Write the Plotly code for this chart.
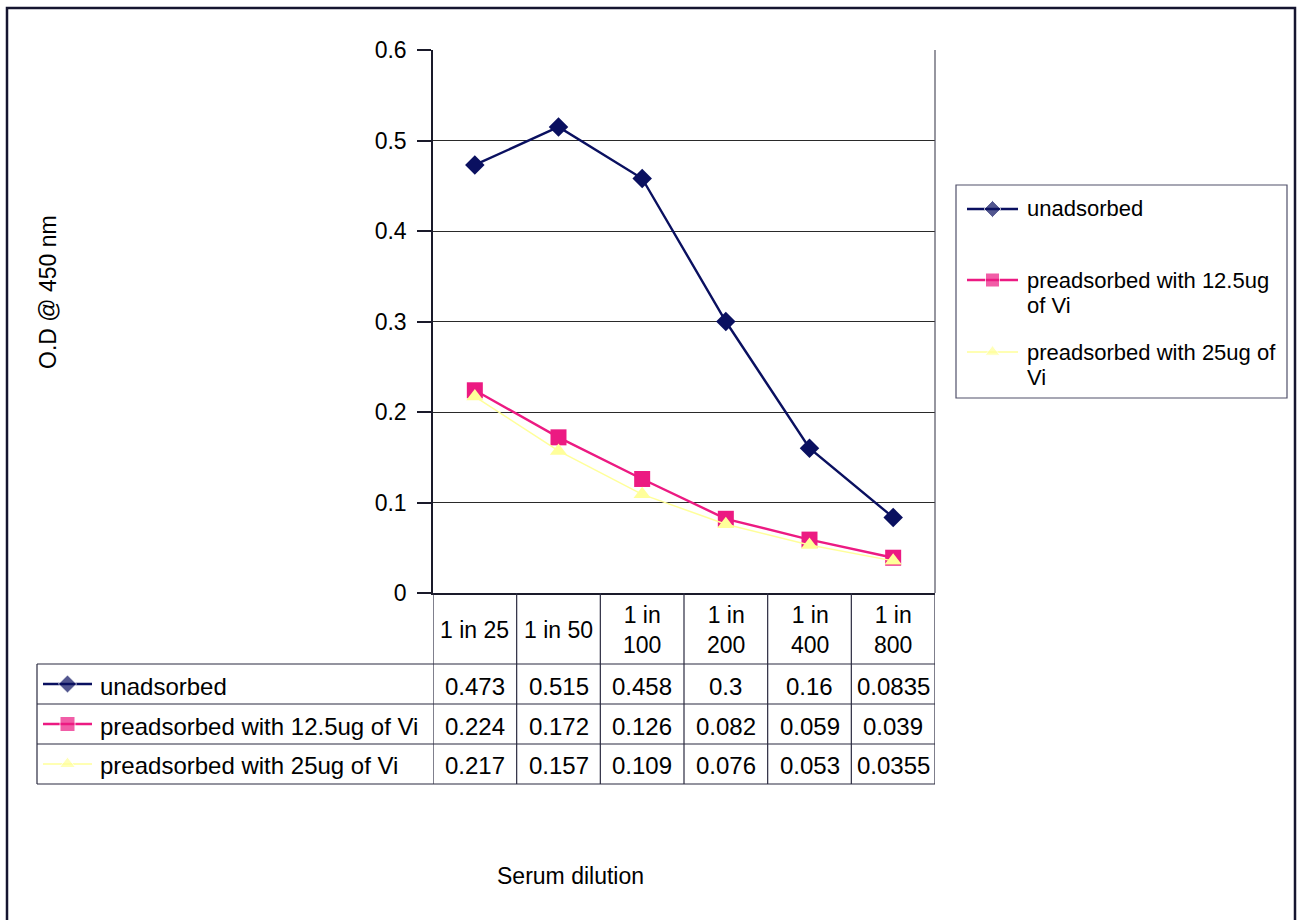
import plotly.graph_objects as go

# ---- data -------------------------------------------------------------
dilutions = ["1 in 25", "1 in 50", "1 in 100", "1 in 200", "1 in 400", "1 in 800"]
unadsorbed = [0.473, 0.515, 0.458, 0.3, 0.16, 0.0835]
pre_12_5 = [0.224, 0.172, 0.126, 0.082, 0.059, 0.039]
pre_25 = [0.217, 0.157, 0.109, 0.076, 0.053, 0.0355]
series_names = ["unadsorbed", "preadsorbed with 12.5ug of Vi", "preadsorbed with 25ug of Vi"]
legend_labels = ["unadsorbed", "preadsorbed with 12.5ug<br>of Vi", "preadsorbed with 25ug of<br>Vi"]
y_ticks = [0, 0.1, 0.2, 0.3, 0.4, 0.5, 0.6]
x_title = "Serum dilution"
y_title = "O.D @ 450 nm"

series_values = [unadsorbed, pre_12_5, pre_25]

# ---- styling ----------------------------------------------------------
W, H = 1304, 920
FONT = "Liberation Sans, Arial, sans-serif"
FS = 23        # ticks, titles, header
FS_TBL = 24    # table rows
FS_LEG = 22    # legend box
colors = ["#0a1060", "#ec1a82", "#ffff9a"]
symbols = ["diamond", "square", "triangle-up"]
msizes = [15, 16, 15]
lwidths = [2.4, 2.4, 1.5]
LINE = "#2a2a40"

# pixel layout of the plot area and table
PL, PR, PT, PB = 433, 935, 50, 593
TBL_LEFT = 37
ROW_LINES = [664, 704, 744, 784]
HEADER_Y = 630
ROW_TEXT_Y = [686, 726, 765]
ROW_KEY_Y = [684, 724, 764]


def fx(px):
    return px / W


def fy(py):
    return 1 - py / H


fig = go.Figure()

# main series
for name, vals, c, s, ms, lw in zip(series_names, series_values, colors, symbols, msizes, lwidths):
    fig.add_trace(go.Scatter(
        x=list(range(len(dilutions))), y=vals, name=name, mode="lines+markers",
        line=dict(color=c, width=lw),
        marker=dict(symbol=s, size=ms, color=c),
        showlegend=False, cliponaxis=False,
        xaxis="x", yaxis="y",
    ))


# legend keys (pixel overlay axes)
def add_key(x0, x1, y, c, s, ms, lw):
    fig.add_trace(go.Scatter(
        x=[x0, (x0 + x1) / 2, x1], y=[y, y, y], mode="lines+markers",
        line=dict(color=c, width=lw),
        marker=dict(symbol=s, size=[0, ms, 0], color=c),
        showlegend=False, hoverinfo="skip", xaxis="x2", yaxis="y2",
    ))


def txt(x, y, text, size, xanchor="left", xref="paper", angle=0):
    fig.add_annotation(x=x, y=y, xref=xref, yref="paper", text=text, showarrow=False,
                       xanchor=xanchor, yanchor="middle", textangle=angle,
                       font=dict(family=FONT, size=size, color="black"))


legend_key_y = [209, 280, 352]
LEG_LINE_GAP = 25
for i in range(3):
    add_key(967, 1018, legend_key_y[i], colors[i], symbols[i], msizes[i] - 2, lwidths[i])
    for k, part in enumerate(legend_labels[i].split("<br>")):
        txt(fx(1025), fy(legend_key_y[i] + k * LEG_LINE_GAP), part, FS_LEG)
    add_key(43, 92, ROW_KEY_Y[i], colors[i], symbols[i], msizes[i] - 1, lwidths[i])
    txt(fx(98), fy(ROW_TEXT_Y[i]), series_names[i], FS_TBL)

shapes = []
# outer chart frame
shapes.append(dict(type="rect", xref="paper", yref="paper", x0=fx(7), x1=fx(1295),
                   y0=fy(935), y1=fy(8), line=dict(color="#151530", width=2.5)))
# legend box
shapes.append(dict(type="rect", xref="paper", yref="paper", x0=fx(956), x1=fx(1287),
                   y0=fy(398), y1=fy(185), line=dict(color="#50506a", width=1.2)))
# table horizontal lines
for ry in ROW_LINES:
    shapes.append(dict(type="line", xref="paper", yref="paper", x0=fx(TBL_LEFT), x1=fx(PR),
                       y0=fy(ry), y1=fy(ry), line=dict(color=LINE, width=1.2)))
# left column vertical
shapes.append(dict(type="line", xref="paper", yref="paper", x0=fx(TBL_LEFT), x1=fx(TBL_LEFT),
                   y0=fy(ROW_LINES[0]), y1=fy(ROW_LINES[-1]), line=dict(color=LINE, width=1.2)))
# category column dividers from the axis down through the table
for i in range(len(dilutions) + 1):
    shapes.append(dict(type="line", xref="x", yref="paper", x0=i - 0.5, x1=i - 0.5,
                       y0=fy(PB), y1=fy(ROW_LINES[-1]), line=dict(color=LINE, width=1.2)))
# right border of the plot area
shapes.append(dict(type="line", xref="paper", yref="paper", x0=fx(PR), x1=fx(PR),
                   y0=fy(PB), y1=fy(PT), line=dict(color="#505060", width=1.2)))

# table header (category labels) and values
for i, d in enumerate(dilutions):
    label = d if len(d) <= 7 else d.rsplit(" ", 1)[0] + "<br>" + d.rsplit(" ", 1)[1]
    txt(i, fy(HEADER_Y), label, FS, xanchor="center", xref="x")
    for r, vals in enumerate(series_values):
        txt(i, fy(ROW_TEXT_Y[r]), f"{vals[i]:g}", FS_TBL, xanchor="center", xref="x")

# axis titles
txt(fx(48), fy(292), y_title, FS, xanchor="center", angle=-90)
txt(fx(570), fy(876), x_title, FS, xanchor="center")

fig.update_layout(
    width=W, height=H, margin=dict(l=0, r=0, t=0, b=0, pad=0, autoexpand=False),
    autosize=False,
    paper_bgcolor="white", plot_bgcolor="rgba(0,0,0,0)",
    font=dict(family=FONT, size=FS, color="black"),
    showlegend=False, shapes=shapes,
    xaxis=dict(domain=[fx(PL), fx(PR)], range=[-0.5, len(dilutions) - 0.5], showticklabels=False,
               showgrid=False, zeroline=False, showline=True, linecolor="#1a1a2a", linewidth=1.5,
               mirror=False, ticks="", anchor="y", automargin=False),
    yaxis=dict(domain=[fy(PB), fy(PT)], range=[0, 0.6], tickvals=y_ticks, ticks="outside",
               ticklen=14, tickcolor="#1a1a2a", tickwidth=1.5, showgrid=True, gridcolor="#2a2a2a",
               gridwidth=1, zeroline=False, showline=True, linecolor="#1a1a2a", linewidth=1.5,
               ticklabelstandoff=6, tickfont=dict(family=FONT, size=FS, color="black"),
               anchor="x", automargin=False),
    xaxis2=dict(domain=[0, 1], range=[0, W], visible=False, anchor="y2", fixedrange=True,
                automargin=False),
    yaxis2=dict(domain=[0, 1], range=[H, 0], visible=False, anchor="x2", fixedrange=True,
                automargin=False),
)

fig.write_html("out.html")
